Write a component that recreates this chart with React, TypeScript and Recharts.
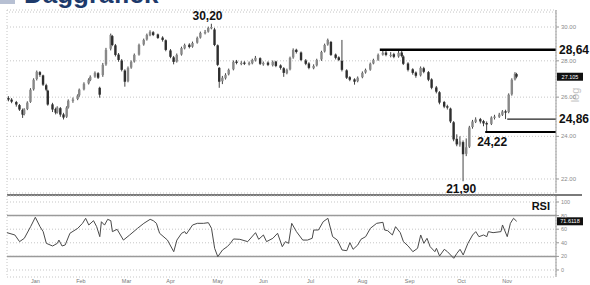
import React from 'react';
import {
  ComposedChart,
  LineChart,
  Line,
  Bar,
  XAxis,
  YAxis,
  CartesianGrid,
  ReferenceLine,
  ReferenceDot,
} from 'recharts';

// day of year for each daily bar
const days = [2, 4, 7, 9, 11, 12, 14, 16, 18, 20, 22, 24, 26, 27, 30, 32, 33, 35, 37, 39, 40, 43, 46, 47, 50, 53, 54, 57, 59, 60, 62, 64, 67, 68, 70, 72, 74, 76, 78, 80, 82, 85, 88, 90, 92, 94, 97, 100, 102, 105, 107, 109, 112, 114, 117, 119, 122, 124, 127, 129, 131, 133, 135, 136, 138, 140, 142, 145, 147, 150, 152, 155, 157, 159, 162, 164, 167, 170, 172, 175, 177, 179, 181, 183, 185, 188, 191, 193, 196, 198, 201, 203, 205, 207, 210, 212, 214, 217, 219, 222, 224, 227, 229, 232, 234, 237, 240, 242, 245, 247, 250, 252, 253, 256, 259, 261, 264, 266, 269, 271, 274, 276, 279, 281, 283, 285, 287, 289, 291, 293, 295, 297, 299, 302, 304, 306, 309, 311, 314, 316, 318, 320, 322, 324, 325];
const opens = [25.95, 25.87, 25.74, 25.58, 25.33, 25.12, 25.38, 25.75, 26.42, 26.98, 27.36, 27.18, 26.64, 26.35, 25.62, 25.38, 25.2, 25.42, 25.1, 24.98, 25.46, 25.8, 25.9, 26.1, 26.42, 26.74, 26.92, 27.12, 27.3, 26.5, 27.2, 27.8, 28.7, 29.45, 28.9, 28.36, 28.02, 27.45, 26.86, 27.62, 27.96, 28.36, 28.95, 29.25, 29.5, 29.68, 29.55, 29.36, 29.2, 28.6, 28.2, 27.96, 28.36, 28.72, 28.94, 28.82, 29.06, 29.36, 29.62, 29.72, 29.92, 29.85, 28.9, 27.6, 26.86, 27.02, 27.24, 27.52, 27.96, 27.82, 27.9, 27.8, 27.86, 28.02, 28.15, 27.8, 27.9, 27.75, 27.96, 27.74, 27.58, 27.3, 27.52, 28.2, 28.64, 28.48, 28.02, 27.85, 27.58, 27.74, 28.08, 28.54, 28.95, 29.1, 28.36, 28.2, 28.0, 27.46, 27.08, 26.96, 26.86, 27.08, 27.34, 27.5, 27.85, 28.06, 28.36, 28.48, 28.28, 28.38, 28.25, 28.48, 28.25, 27.85, 27.52, 27.34, 27.18, 27.58, 27.36, 26.96, 26.52, 26.26, 25.74, 25.52, 25.4, 24.7, 23.88, 23.6, 23.72, 23.16, 23.5, 24.46, 24.72, 24.86, 24.76, 24.66, 24.62, 24.92, 24.98, 25.08, 25.26, 25.22, 26.15, 26.96, 27.25];
const highs = [26.05, 25.95, 25.8, 25.64, 25.4, 25.42, 25.78, 26.48, 27.02, 27.45, 27.42, 27.22, 26.72, 26.4, 25.7, 25.45, 25.52, 25.48, 25.18, 25.52, 25.88, 25.98, 26.15, 26.46, 26.8, 27.02, 27.18, 27.4, 27.36, 26.56, 27.88, 28.75, 29.6, 29.52, 28.98, 28.45, 28.1, 27.52, 27.68, 28.02, 28.42, 29.0, 29.3, 29.6, 29.8, 29.75, 29.6, 29.44, 29.25, 28.68, 28.28, 28.42, 28.82, 29.0, 29.02, 29.12, 29.42, 29.72, 29.82, 30.02, 30.2, 29.95, 28.95, 27.65, 27.15, 27.3, 27.56, 28.02, 28.05, 27.98, 27.98, 27.96, 28.12, 28.28, 28.2, 27.96, 27.97, 28.02, 28.0, 27.8, 27.64, 27.56, 28.24, 28.72, 28.7, 28.54, 28.1, 27.92, 27.8, 28.12, 28.58, 29.0, 29.3, 29.16, 28.42, 28.26, 29.22, 27.52, 27.14, 27.02, 27.12, 27.4, 27.56, 27.9, 28.12, 28.42, 28.64, 28.6, 28.5, 28.46, 28.64, 28.62, 28.32, 27.92, 27.58, 27.4, 27.68, 27.66, 27.42, 27.02, 26.6, 26.32, 25.8, 25.6, 25.45, 24.76, 24.1, 24.0, 23.8, 23.9, 24.52, 24.82, 24.95, 24.92, 24.82, 24.74, 25.0, 25.08, 25.18, 25.32, 25.34, 26.2, 27.02, 27.36, 27.32];
const lows = [25.78, 25.68, 25.5, 25.28, 24.92, 25.05, 25.32, 25.7, 26.35, 26.9, 27.1, 26.6, 26.32, 25.55, 25.22, 25.1, 25.14, 24.98, 24.84, 24.92, 25.4, 25.7, 25.84, 26.02, 26.36, 26.68, 26.86, 27.05, 26.98, 25.97, 27.1, 27.72, 28.6, 28.85, 28.25, 27.95, 27.4, 26.56, 26.8, 27.55, 27.9, 28.3, 28.88, 29.18, 29.44, 29.45, 29.28, 29.12, 28.55, 28.15, 27.8, 27.9, 28.3, 28.66, 28.72, 28.76, 29.0, 29.3, 29.55, 29.66, 29.86, 28.85, 27.7, 26.5, 26.7, 26.95, 27.18, 27.46, 27.8, 27.75, 27.76, 27.74, 27.8, 27.96, 27.76, 27.72, 27.7, 27.68, 27.64, 27.5, 27.1, 27.24, 27.46, 28.12, 28.42, 27.98, 27.75, 27.52, 27.52, 27.68, 28.0, 28.48, 28.88, 28.28, 28.08, 27.98, 27.4, 26.98, 26.86, 26.67, 26.8, 27.02, 27.28, 27.44, 27.8, 28.0, 28.3, 28.26, 28.2, 28.15, 28.18, 28.2, 27.76, 27.4, 27.22, 27.05, 27.12, 27.3, 26.86, 26.42, 26.2, 25.62, 25.42, 25.35, 24.66, 23.76, 23.52, 23.5, 21.9, 23.05, 23.44, 24.38, 24.66, 24.64, 24.5, 24.22, 24.56, 24.84, 24.92, 25.02, 24.86, 25.16, 26.08, 26.9, 27.02];
const closes = [25.87, 25.76, 25.61, 25.35, 25.09, 25.35, 25.71, 26.4, 26.94, 27.38, 27.21, 26.67, 26.4, 25.61, 25.35, 25.19, 25.45, 25.09, 24.94, 25.45, 25.81, 25.87, 26.08, 26.4, 26.72, 26.94, 27.1, 27.32, 27.05, 26.13, 27.77, 28.63, 29.52, 28.92, 28.34, 28.05, 27.49, 26.83, 27.6, 27.94, 28.34, 28.92, 29.22, 29.52, 29.7, 29.52, 29.34, 29.22, 28.63, 28.23, 27.94, 28.34, 28.74, 28.92, 28.8, 29.04, 29.34, 29.64, 29.7, 29.94, 30.0, 28.92, 27.77, 26.83, 27.05, 27.21, 27.49, 27.94, 27.88, 27.88, 27.83, 27.88, 28.05, 28.17, 27.83, 27.88, 27.77, 27.94, 27.71, 27.6, 27.32, 27.49, 28.17, 28.63, 28.51, 28.05, 27.83, 27.6, 27.71, 28.05, 28.51, 28.92, 29.22, 28.34, 28.17, 28.05, 27.49, 27.05, 26.94, 26.83, 27.05, 27.32, 27.49, 27.83, 28.05, 28.34, 28.46, 28.34, 28.34, 28.23, 28.46, 28.28, 27.83, 27.49, 27.32, 27.16, 27.6, 27.38, 26.94, 26.5, 26.29, 25.71, 25.5, 25.45, 24.74, 23.85, 23.61, 23.75, 23.14, 23.47, 24.44, 24.74, 24.84, 24.74, 24.64, 24.59, 24.94, 24.99, 25.09, 25.25, 25.19, 26.13, 26.94, 27.27, 27.11];

const rsiDays = [1, 6, 9, 12, 16, 19, 22, 24, 26, 30, 33, 34, 36, 38, 41, 46, 49, 51, 53, 56, 58, 60, 61, 63, 65, 67, 68, 71, 75, 79, 84, 88, 92, 94, 96, 98, 103, 107, 109, 112, 114, 115, 119, 122, 126, 129, 131, 133, 135, 138, 141, 143, 145, 149, 154, 159, 161, 164, 166, 170, 173, 176, 178, 180, 182, 185, 189, 192, 195, 196, 199, 202, 205, 208, 211, 214, 217, 219, 221, 224, 226, 229, 232, 236, 240, 241, 243, 246, 248, 251, 253, 256, 259, 262, 264, 266, 268, 270, 273, 274, 276, 279, 281, 285, 287, 289, 291, 294, 297, 299, 301, 304, 306, 307, 310, 315, 316, 319, 321, 323, 325];
const rsiValues = [54.9, 51.5, 41.7, 46.6, 63.7, 77.5, 63.7, 56.4, 39.2, 35.3, 39.2, 44.0, 35.3, 36.8, 54.0, 61.3, 68.6, 76.0, 66.2, 72.5, 63.7, 49.0, 71.0, 66.0, 74.5, 72.5, 56.4, 59.8, 44.0, 51.5, 61.3, 68.6, 74.5, 72.5, 68.6, 54.0, 44.0, 26.9, 44.0, 54.0, 56.4, 52.9, 66.2, 68.6, 68.6, 69.6, 61.3, 31.9, 19.6, 29.4, 34.3, 39.2, 45.6, 45.1, 41.7, 54.9, 45.1, 51.5, 41.7, 46.6, 54.0, 34.3, 41.7, 39.2, 68.6, 56.4, 44.0, 44.0, 46.6, 58.8, 58.8, 71.0, 76.0, 49.0, 44.0, 29.4, 28.4, 40.2, 30.4, 36.8, 45.1, 49.0, 61.3, 68.6, 70.1, 58.8, 57.8, 51.5, 63.7, 54.9, 41.7, 35.3, 26.9, 31.9, 51.5, 39.2, 46.6, 34.3, 26.9, 31.9, 20.6, 30.4, 26.9, 17.2, 24.5, 30.4, 22.1, 39.2, 51.5, 56.4, 49.0, 51.5, 49.0, 56.4, 54.9, 56.4, 66.2, 49.0, 68.6, 76.0, 71.6];

const monthStarts = [1, 33, 62, 91, 119, 150, 181, 213, 243, 275, 306, 335];
const monthMids = [19, 48, 77, 105, 135, 164, 194, 227, 257, 290, 319];
const monthNames = ['Jan', 'Feb', 'Mar', 'Apr', 'May', 'Jun', 'Jul', 'Aug', 'Sep', 'Oct', 'Nov'];

const priceTicks = [22, 24, 26, 28, 30];
const rsiTicks = [0, 20, 40, 60, 80, 100];
const dayDomain = [1, 350];
const priceDomain = [21.38, 31.06];
const rsiDomain = [-10.3, 108.8];
const priceTop = 30.93;

const lastPrice = 27.105;
const lastRsi = 71.6118;
const peakDay = 131;
const peakValue = 30.2;
const lowDay = 291;
const lowValue = 21.9;
const resistance = 28.64;
const resistanceFrom = 238;
const support1 = 24.86;
const support1From = 319;
const support2 = 24.22;
const support2From = 305;
const rsiUpper = 80;
const rsiLower = 20;

const FONT = '"Liberation Sans", Arial, sans-serif';

const candles = days.map((d, i) => ({
  day: d,
  wick: [lows[i], highs[i]],
  body: [Math.min(opens[i], closes[i]), Math.max(opens[i], closes[i])],
  up: closes[i] >= opens[i],
}));
const rsiData = rsiDays.map((d, i) => ({ day: d, rsi: rsiValues[i] }));

const fmtNl = (v: number) => v.toFixed(2).replace('.', ',');

const Wick = (p: any) => {
  const cx = p.x + p.width / 2;
  return <line x1={cx} x2={cx} y1={p.y} y2={p.y + p.height} stroke="#444" strokeWidth={1} />;
};

const Body = (p: any) => {
  const cx = p.x + p.width / 2;
  return (
    <rect
      x={cx - 1.2}
      y={p.y}
      width={2.4}
      height={Math.max(p.height, 1)}
      fill={p.payload.up ? '#888' : '#2e2e2e'}
    />
  );
};

const sideLabel = (text: string) => (p: any) => (
  <text
    x={p.viewBox.x + p.viewBox.width + 3}
    y={p.viewBox.y + 4}
    fontSize={12}
    fontWeight="bold"
    fill="#111"
    fontFamily={FONT}
  >
    {text}
  </text>
);

const belowLabel = (text: string) => (p: any) => (
  <text
    x={p.viewBox.x + 7}
    y={p.viewBox.y + 14}
    fontSize={12}
    fontWeight="bold"
    fill="#111"
    textAnchor="middle"
    fontFamily={FONT}
  >
    {text}
  </text>
);

const tag = (text: string) => (p: any) => {
  const x = p.viewBox.x + p.viewBox.width + 1;
  const y = p.viewBox.y;
  return (
    <g>
      <rect x={x} y={y - 4} width={26} height={8} fill="#111" />
      <text x={x + 13} y={y + 2} textAnchor="middle" fontSize={5.5} fill="#fff" fontFamily={FONT}>
        {text}
      </text>
    </g>
  );
};

const LogMark = (p: any) => {
  const x = p.viewBox.x + 23;
  const y = p.viewBox.y + 85;
  return (
    <text
      x={x}
      y={y}
      transform={`rotate(-90 ${x} ${y})`}
      textAnchor="middle"
      fontSize={11}
      fill="#c2c2c2"
      fontFamily={FONT}
    >
      log
    </text>
  );
};

export default function App() {
  return (
    <div
      style={{
        position: 'absolute',
        left: 0,
        top: 0,
        width: 590,
        height: 285,
        overflow: 'hidden',
        background: '#fff',
        fontFamily: FONT,
      }}
    >
      <div style={{ position: 'absolute', left: 0, top: 0, width: 15, height: 4, background: '#b7c0d3' }} />
      <div
        style={{
          position: 'absolute',
          left: 24,
          top: -19,
          fontSize: 26,
          lineHeight: '26px',
          fontWeight: 'bold',
          color: '#1d3a6b',
          whiteSpace: 'nowrap',
        }}
      >
        Daggrafiek
      </div>

      <div style={{ position: 'absolute', left: 0, top: 0 }}>
        <ComposedChart width={590} height={195} data={candles} margin={{ top: 10, right: 0, left: 7, bottom: 2 }}>
          <CartesianGrid xAxisId="a" strokeDasharray="1 2" stroke="#c6c6c6" />
          <XAxis
            xAxisId="a"
            dataKey="day"
            type="number"
            domain={dayDomain}
            ticks={monthStarts}
            interval={0}
            height={0}
            tick={false}
            tickLine={false}
            axisLine={false}
            allowDataOverflow
          />
          <XAxis xAxisId="b" dataKey="day" type="number" domain={dayDomain} hide allowDataOverflow />
          <YAxis
            orientation="right"
            scale="log"
            domain={priceDomain}
            ticks={priceTicks}
            interval={0}
            allowDataOverflow
            width={34}
            tickSize={3}
            tickMargin={2}
            tick={{ fontSize: 6, fill: '#8a8a8a', fontFamily: FONT }}
            tickLine={{ stroke: '#999' }}
            axisLine={{ stroke: '#999' }}
            tickFormatter={(v: number) => v.toFixed(2)}
            label={LogMark}
          />
          <ReferenceLine xAxisId="a" y={priceTop} stroke="#c6c6c6" strokeDasharray="1 2" />

          <Bar xAxisId="a" dataKey="wick" shape={Wick} isAnimationActive={false} />
          <Bar xAxisId="b" dataKey="body" shape={Body} isAnimationActive={false} />

          <ReferenceLine
            xAxisId="a"
            segment={[{ x: resistanceFrom, y: resistance }, { x: dayDomain[1], y: resistance }]}
            stroke="#000"
            strokeWidth={2.5}
            label={sideLabel(fmtNl(resistance))}
          />
          <ReferenceLine
            xAxisId="a"
            segment={[{ x: support1From, y: support1 }, { x: dayDomain[1], y: support1 }]}
            stroke="#222"
            strokeWidth={1.2}
            label={sideLabel(fmtNl(support1))}
          />
          <ReferenceLine
            xAxisId="a"
            segment={[{ x: support2From, y: support2 }, { x: dayDomain[1], y: support2 }]}
            stroke="#000"
            strokeWidth={2}
            label={belowLabel(fmtNl(support2))}
          />
          <ReferenceLine xAxisId="a" y={lastPrice} stroke="none" label={tag(lastPrice.toFixed(3))} />
          <ReferenceDot
            xAxisId="a"
            x={peakDay}
            y={peakValue}
            r={0}
            stroke="none"
            label={{ value: fmtNl(peakValue), position: 'top', offset: 4, dx: -4, fontSize: 12, fontWeight: 'bold', fill: '#111', fontFamily: FONT }}
          />
          <ReferenceDot
            xAxisId="a"
            x={lowDay}
            y={lowValue}
            r={0}
            stroke="none"
            label={{ value: fmtNl(lowValue), position: 'bottom', offset: 3, dx: -2, fontSize: 12, fontWeight: 'bold', fill: '#111', fontFamily: FONT }}
          />
        </ComposedChart>
      </div>

      <div style={{ position: 'absolute', left: 7, top: 194, width: 575, height: 2, background: '#7a7a7a' }} />

      <div style={{ position: 'absolute', left: 0, top: 195 }}>
        <LineChart width={590} height={90} data={rsiData} margin={{ top: 1, right: 0, left: 7, bottom: 0 }}>
          <CartesianGrid xAxisId="m" strokeDasharray="1 2" stroke="#c6c6c6" />
          <XAxis
            xAxisId="m"
            dataKey="day"
            type="number"
            domain={dayDomain}
            ticks={monthStarts}
            interval={0}
            height={0}
            tick={false}
            tickSize={2}
            tickLine={{ stroke: '#999' }}
            axisLine={{ stroke: '#999' }}
            allowDataOverflow
          />
          <XAxis
            xAxisId="l"
            dataKey="day"
            type="number"
            domain={dayDomain}
            ticks={monthMids}
            interval={0}
            height={8}
            tickSize={0}
            tickMargin={2}
            tickLine={false}
            axisLine={false}
            tick={{ fontSize: 5.5, fill: '#777', fontFamily: FONT }}
            tickFormatter={(v: number) => monthNames[monthMids.indexOf(v)]}
            allowDataOverflow
          />
          <YAxis
            orientation="right"
            domain={rsiDomain}
            ticks={rsiTicks}
            interval={0}
            allowDataOverflow
            width={34}
            tickSize={3}
            tickMargin={2}
            tick={{ fontSize: 5.5, fill: '#8a8a8a', fontFamily: FONT }}
            tickLine={{ stroke: '#999' }}
            axisLine={{ stroke: '#999' }}
          />
          <ReferenceLine
            xAxisId="m"
            y={rsiUpper}
            stroke="#9a9a9a"
            strokeWidth={1.5}
            label={{ value: 'RSI', position: 'insideBottomRight', offset: 6, fontSize: 11, fontWeight: 'bold', fill: '#111', fontFamily: FONT }}
          />
          <ReferenceLine xAxisId="m" y={rsiLower} stroke="#9a9a9a" strokeWidth={1.5} />
          <Line
            xAxisId="m"
            type="linear"
            dataKey="rsi"
            stroke="#4a4a4a"
            strokeWidth={1}
            dot={false}
            isAnimationActive={false}
          />
          <ReferenceLine xAxisId="m" y={lastRsi} stroke="none" label={tag(lastRsi.toFixed(4))} />
        </LineChart>
      </div>
    </div>
  );
}
